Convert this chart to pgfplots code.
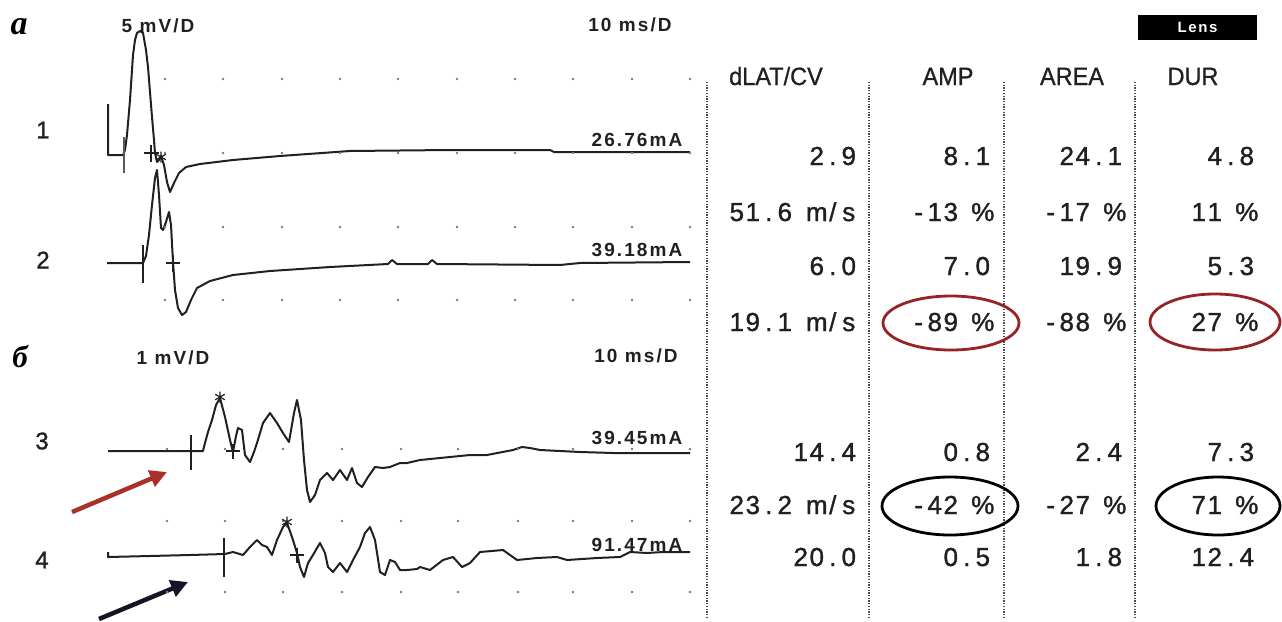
\documentclass[border=0pt]{standalone}
\usepackage{pgfplots}
\pgfplotsset{compat=1.18}
\usepackage{fontspec}
\setmainfont{Liberation Sans}
\newfontfamily\lblfont{Liberation Sans}[LetterSpace=11]
\newfontfamily\tblfont{Liberation Sans}[FakeBold=1.2]
\newfontfamily\hdrfont{Liberation Sans}[FakeBold=0.8, FakeStretch=0.94]
\newfontfamily\seriffont{Liberation Serif}
\usetikzlibrary{arrows.meta}
\definecolor{tr}{RGB}{32,32,32}
\definecolor{dred}{RGB}{150,35,40}
\definecolor{arrred}{RGB}{172,48,42}
\definecolor{arrblk}{RGB}{20,20,38}
\definecolor{dotc}{RGB}{125,125,135}
\newlength\cw \setlength\cw{16pt}
\def\mono#1{\monoi#1\relax}
\def\monoi#1{\ifx\relax#1\else\makebox[\cw][c]{#1}\expandafter\monoi\fi}
\tikzset{tbl/.style={font=\tblfont\fontsize{26}{26}\selectfont, text=tr, inner sep=0pt, anchor=base east},
  lbl/.style={font=\lblfont\bfseries\fontsize{19}{19}\selectfont, text=tr},
  hdr/.style={font=\hdrfont\fontsize{25}{25}\selectfont, text=tr, inner sep=0pt},
  num/.style={font=\tblfont\fontsize{24}{24}\selectfont, text=tr},
  trc/.style={tr, line width=2pt, line join=round},
  vdot/.style={black!70, line width=1.4pt, dash pattern=on 1.3pt off 1.4pt}}
\begin{document}
\begin{tikzpicture}
\begin{axis}[width=1282pt,height=621pt,scale only axis,
  xmin=0,xmax=1282,ymin=0,ymax=621,y dir=reverse,hide axis,clip=false]
% grid dots
\addplot[only marks, mark=*, mark size=1pt, dotc] coordinates {
(165,79)(223,79)(282,79)(340,79)(398,79)(457,79)(515,79)(573,79)(632,79)(690,79)
(165,153)(223,153)(282,153)(340,153)(398,153)(457,153)(515,153)(573,153)(632,153)(690,153)
(165,227)(223,227)(282,227)(340,227)(398,227)(457,227)(515,227)(573,227)(632,227)(690,227)
(165,300)(223,300)(282,300)(340,300)(398,300)(457,300)(515,300)(573,300)(632,300)(690,300)
(167,449)(225,449)(283,449)(342,449)(401,449)(458,449)(518,449)(573,449)(632,449)(690,449)
(167,521)(225,521)(283,521)(342,521)(401,521)(458,521)(518,521)(573,521)(632,521)(690,521)
(167,592)(225,592)(283,592)(342,592)(401,592)(458,592)(518,592)(573,592)(632,592)(690,592)
};
% trace 1
\addplot[trc] coordinates {
(108,104)(108,155)(123,155)(125,150)(127,135)(130,100)(133,55)(135,40)(137,33)(140,31)(143,33)(146,50)(148,67)(150,92)(152,117)(154,140)(155,153)(157,162)(159,160)(161,156)(164,165)(167,182)(170,192)(174,183)(179,173)(186,167)(200,164)(233,160)(280,156)(350,151)(450,150)(550,150)(554,152)(690,152)
};
% trace 2
\addplot[trc] coordinates {
(107,263)(143,263)(146,256)(149,235)(152,205)(155,178)(157,170)(159,195)(161,228)(163,230)(166,222)(169,212)(171,225)(173,262)(175,290)(178,308)(182,315)(186,312)(191,300)(197,288)(210,281)(233,275)(270,271)(330,267)(388,264)(392,260)(397,264)(428,264)(432,260)(437,264)(560,265)(580,263)(690,262)
};
% trace 3
\addplot[trc] coordinates {
(108,451)(203,451)(205,443)(208,432)(212,420)(216,405)(220,398)(225,417)(230,440)(233,452)(236,436)(238,428)(242,430)(245,455)(250,462)(254,452)(257,443)(263,423)(270,413)(277,423)(283,433)(289,442)(294,413)(297,400)(301,420)(304,460)(307,490)(310,502)(315,495)(320,480)(327,473)(333,480)(340,470)(347,480)(352,468)(357,483)(362,487)(368,477)(375,467)(383,468)(390,467)(400,463)(407,463)(420,460)(440,458)(470,455)(487,455)(513,450)(522,447)(530,448)(540,450)(580,452)(613,453)(690,453)
};
% trace 4
\addplot[trc] coordinates {
(108,552)(108,557)(150,556)(190,555)(225,554)(233,552)(243,555)(250,547)(257,540)(262,545)(267,547)(272,555)(277,540)(283,527)(287,523)(292,537)(297,553)(300,567)(304,577)(308,563)(313,555)(320,543)(325,553)(328,567)(333,572)(340,563)(347,572)(353,560)(360,547)(365,533)(370,527)(375,540)(380,572)(385,575)(390,560)(395,562)(400,570)(407,570)(417,569)(420,567)(430,570)(443,560)(453,557)(462,567)(470,563)(480,552)(503,550)(517,560)(537,558)(557,557)(567,560)(597,558)(620,557)(630,552)(647,553)(663,552)(690,552)
};
% cursor marks
\addplot[tr!75, line width=1.4pt] coordinates {(124,137)(124,173)};
\addplot[tr, line width=1.4pt] coordinates {(144,153)(159,153)};
\addplot[tr, line width=1.4pt] coordinates {(151,145)(151,162)};
\addplot[tr, line width=1.4pt] coordinates {(143,245)(143,283)};
\addplot[tr, line width=1.4pt] coordinates {(166,263)(180,263)};
\addplot[tr, line width=1.4pt] coordinates {(173,255)(173,272)};
\addplot[tr, line width=1.4pt] coordinates {(191,435)(191,470)};
\addplot[tr, line width=1.4pt] coordinates {(226,451)(240,451)};
\addplot[tr, line width=1.4pt] coordinates {(233,444)(233,459)};
\addplot[tr, line width=1.4pt] coordinates {(224,538)(224,577)};
\addplot[tr, line width=1.4pt] coordinates {(290,555)(304,555)};
\addplot[tr, line width=1.4pt] coordinates {(297,548)(297,563)};
\addplot[only marks, mark=asterisk, mark size=5.5pt, tr, line width=1.2pt] coordinates {(161,157)(220,397)(287,522)};
% trace labels
\node[num] at (43,130) {1};
\node[num] at (43,260) {2};
\node[num] at (42,441) {3};
\node[num] at (42,560) {4};
\node[font=\seriffont\bfseries\itshape\fontsize{34}{34}\selectfont] at (19,27) {а};
\node[font=\seriffont\bfseries\itshape\fontsize{31}{31}\selectfont] at (20,357) {б};
\node[lbl] at (158,26) {5 mV/D};
\node[lbl] at (630,25) {10 ms/D};
\node[lbl] at (637,140) {26.76mA};
\node[lbl] at (637,250) {39.18mA};
\node[lbl] at (173,358) {1 mV/D};
\node[lbl] at (636,356) {10 ms/D};
\node[lbl] at (637,438) {39.45mA};
\node[lbl] at (637,545) {91.47mA};
% arrows
\draw[arrred, line width=4.5pt, -{Triangle[length=17pt,width=17pt]}] (72,512) -- (167,472);
\draw[arrblk, line width=4.5pt, -{Triangle[length=17pt,width=17pt]}] (99,619) -- (188,582);
% table
\draw[vdot] (707,82) -- (707,618);
\draw[vdot] (869,82) -- (869,618);
\draw[vdot] (1004,82) -- (1004,618);
\draw[vdot] (1135,82) -- (1135,618);
\fill[black] (1138,15) rectangle (1257,40);
\node[white, font=\lblfont\bfseries\fontsize{15}{15}\selectfont] at (1197.5,27.5) {Lens};
\node[hdr, anchor=base west] at (729,85) {dLAT/CV};
\node[hdr, anchor=base] at (948,85) {AMP};
\node[hdr, anchor=base] at (1072,85) {AREA};
\node[hdr, anchor=base] at (1193,85) {DUR};
\node[tbl] at (857,165) {\mono{2.9}};
\node[tbl] at (991,165) {\mono{8.1}};
\node[tbl] at (1123,165) {\mono{24.1}};
\node[tbl] at (1255,165) {\mono{4.8}};
\node[tbl] at (857,221) {\mono{51.6~m/s}};
\node[tbl] at (991,221) {\mono{-13~\%}};
\node[tbl] at (1123,221) {\mono{-17~\%}};
\node[tbl] at (1255,221) {\mono{11~\%}};
\node[tbl] at (857,275) {\mono{6.0}};
\node[tbl] at (991,275) {\mono{7.0}};
\node[tbl] at (1123,275) {\mono{19.9}};
\node[tbl] at (1255,275) {\mono{5.3}};
\node[tbl] at (857,331) {\mono{19.1~m/s}};
\node[tbl] at (991,331) {\mono{-89~\%}};
\node[tbl] at (1123,331) {\mono{-88~\%}};
\node[tbl] at (1255,331) {\mono{27~\%}};
\node[tbl] at (857,461) {\mono{14.4}};
\node[tbl] at (991,461) {\mono{0.8}};
\node[tbl] at (1123,461) {\mono{2.4}};
\node[tbl] at (1255,461) {\mono{7.3}};
\node[tbl] at (857,514) {\mono{23.2~m/s}};
\node[tbl] at (991,514) {\mono{-42~\%}};
\node[tbl] at (1123,514) {\mono{-27~\%}};
\node[tbl] at (1255,514) {\mono{71~\%}};
\node[tbl] at (857,566) {\mono{20.0}};
\node[tbl] at (991,566) {\mono{0.5}};
\node[tbl] at (1123,566) {\mono{1.8}};
\node[tbl] at (1255,566) {\mono{12.4}};
\draw[dred, line width=2.8pt] (951,323) ellipse [x radius=68, y radius=27];
\draw[dred, line width=2.8pt] (1215,322) ellipse [x radius=65, y radius=28];
\draw[black, line width=2.8pt] (950,506) ellipse [x radius=68, y radius=29];
\draw[black, line width=2.8pt] (1218,506) ellipse [x radius=62, y radius=29];
\end{axis}
\pgfresetboundingbox
\useasboundingbox (current axis.south west) rectangle (current axis.north east);
\end{tikzpicture}
\end{document}
